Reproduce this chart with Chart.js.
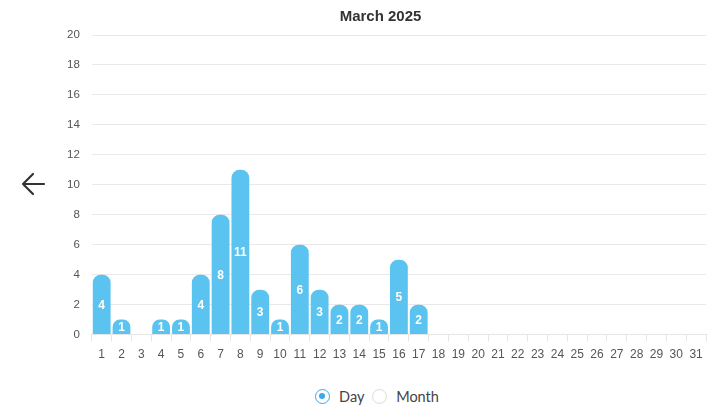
<!DOCTYPE html>
<html>
<head>
<meta charset="utf-8">
<script src="https://cdn.jsdelivr.net/npm/chart.js@4"></script>
<style>
  html, body { margin: 0; padding: 0; background: #fff; }
  body { width: 715px; height: 409px; position: relative; overflow: hidden; font-family: Lato, "Open Sans", sans-serif; }
  #arrow { position: absolute; left: 20px; top: 172px; width: 26px; height: 24px; }
  #wrap { position: absolute; left: 55px; top: 0; width: 655px; height: 368px; }
  #legend { position: absolute; left: 0; top: 388px; width: 715px; text-align: center; font-size: 14.5px; color: #444; padding-left: 39px; box-sizing: border-box; }
  .opt { display: inline-flex; align-items: center; margin: 0 2px; }
  .dot { display: inline-block; width: 15px; height: 15px; border-radius: 50%; border: 1px solid #dcdcdc; box-sizing: border-box; margin-right: 9px; position: relative; }
  .dot.on { border: 1.5px solid #3aa9e4; }
  .dot.on::after { content: ""; position: absolute; left: 3px; top: 3px; width: 6px; height: 6px; border-radius: 50%; background: #3aa9e4; }
</style>
</head>
<body>
<svg id="arrow" viewBox="0 0 26 24">
  <path d="M3 12 H24 M13 2 L3 12 L13 22" fill="none" stroke="#333" stroke-width="2.2" stroke-linecap="round" stroke-linejoin="round"/>
</svg>
<div id="wrap"><canvas id="c"></canvas></div>
<div id="legend">
  <span class="opt"><span class="dot on"></span>Day</span>
  <span class="opt"><span class="dot"></span>Month</span>
</div>
<script>
const titleText = "March 2025";
const days = ["1","2","3","4","5","6","7","8","9","10","11","12","13","14","15","16","17","18","19","20","21","22","23","24","25","26","27","28","29","30","31"];
const counts = [4,1,0,1,1,4,8,11,3,1,6,3,2,2,1,5,2,null,null,null,null,null,null,null,null,null,null,null,null,null,null];
const yMin = 0, yMax = 20, yStep = 2;

const barLabels = {
  id: 'barLabels',
  afterDatasetsDraw(chart) {
    const ctx = chart.ctx;
    const meta = chart.getDatasetMeta(0);
    ctx.save();
    ctx.fillStyle = '#ffffff';
    ctx.font = 'bold 12px "Liberation Sans", Arial, sans-serif';
    ctx.textAlign = 'center';
    ctx.textBaseline = 'middle';
    meta.data.forEach((bar, i) => {
      const v = counts[i];
      if (v === null || v === 0) return;
      ctx.fillText(String(v), bar.x, (bar.y + bar.base) / 2 + 1);
    });
    ctx.restore();
  }
};

new Chart(document.getElementById('c'), {
  type: 'bar',
  data: {
    labels: days,
    datasets: [{
      data: counts,
      backgroundColor: '#5bc3ef',
      borderRadius: { topLeft: 8, topRight: 8 },
      borderSkipped: 'start',
      barPercentage: 0.9,
      categoryPercentage: 1.0
    }]
  },
  options: {
    responsive: true,
    maintainAspectRatio: false,
    animation: false,
    layout: { padding: { left: 0, right: 4, top: 0, bottom: 0 } },
    plugins: {
      legend: { display: false },
      tooltip: { enabled: false },
      title: {
        display: true,
        text: titleText,
        color: '#333',
        font: { family: '"Liberation Sans", Arial, sans-serif', size: 15, weight: 'bold' },
        padding: { top: 8, bottom: 9 }
      }
    },
    scales: {
      x: {
        grid: { display: true, drawOnChartArea: false, color: '#e6e6e6', tickLength: 7, offset: true },
        border: { display: true, color: '#e6e6e6' },
        ticks: { color: '#555', font: { family: '"Liberation Sans", Arial, sans-serif', size: 12 }, maxRotation: 0, autoSkip: false, padding: 6 }
      },
      y: {
        min: yMin, max: yMax,
        grid: { color: '#e9e9e9', drawTicks: false },
        border: { display: false },
        ticks: { stepSize: yStep, color: '#555', font: { family: '"Liberation Sans", Arial, sans-serif', size: 11.5 }, padding: 12 }
      }
    }
  },
  plugins: [barLabels]
});
</script>
</body>
</html>
